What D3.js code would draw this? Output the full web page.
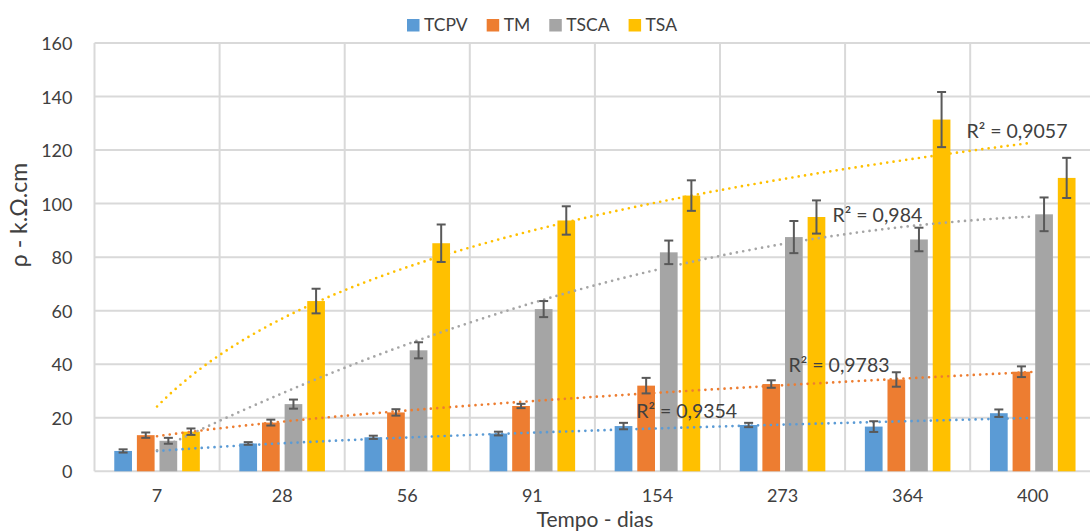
<!DOCTYPE html>
<html>
<head>
<meta charset="utf-8">
<script src="https://cdn.jsdelivr.net/npm/d3@7/dist/d3.min.js"></script>
<style>
  html, body { margin: 0; padding: 0; background: #fff; }
  svg { display: block; font-family: Lato, "Open Sans", sans-serif; }
</style>
</head>
<body>
<svg id="chart" width="1090" height="532"></svg>
<script>
// ---------------- data ----------------
const categories = ["7", "28", "56", "91", "154", "273", "364", "400"];
const seriesNames = ["TCPV", "TM", "TSCA", "TSA"];
const TCPV = [7.6, 10.4, 12.7, 14.1, 16.9, 17.3, 16.7, 21.7];
const TM   = [13.5, 18.2, 22.0, 24.4, 32.0, 32.6, 34.3, 37.2];
const TSCA = [11.4, 25.1, 45.2, 60.6, 81.8, 87.5, 86.6, 96.0];
const TSA  = [14.8, 63.6, 85.2, 93.7, 103.0, 95.0, 131.4, 109.6];
const TCPV_err = [0.6, 0.5, 0.6, 0.7, 1.2, 0.8, 2.0, 1.4];
const TM_err   = [1.0, 1.1, 1.2, 0.8, 2.9, 1.4, 2.7, 2.0];
const TSCA_err = [1.1, 1.7, 3.0, 3.0, 4.4, 6.0, 4.4, 6.3];
const TSA_err  = [1.2, 4.6, 7.0, 5.3, 5.7, 6.2, 10.3, 7.5];
const trendTypes = ["power", "power", "poly2", "log"];
const r2Labels = ["R² = 0,9354", "R² = 0,9783", "R² = 0,984", "R² = 0,9057"];
const yTicks = [0, 20, 40, 60, 80, 100, 120, 140, 160];
const xTitle = "Tempo - dias";
const yTitle = "ρ - k.Ω.cm";

// ---------------- style / layout ----------------
const colors = ["#5B9BD5", "#ED7D31", "#A5A5A5", "#FFC000"];
const gridColor = "#D9D9D9";
const textColor = "#404040";
const errColor = "#595959";
const plot = { left: 94.5, top: 43, bottom: 471.3, step: 125.1 };
// label anchor: category, fraction of band, value (baseline)
const labelPos = [
  { cat: "154", f: 0.33, v: 19.9 },
  { cat: "273", f: 0.548, v: 37.1 },
  { cat: "273", f: 0.90, v: 93.2 },
  { cat: "364", f: 0.97, v: 124.4 }
];

const values = [TCPV, TM, TSCA, TSA];
const errs = [TCPV_err, TM_err, TSCA_err, TSA_err];

const svg = d3.select("#chart");

const x = d3.scaleBand()
  .domain(categories)
  .range([plot.left, plot.left + plot.step * categories.length])
  .padding(0);
const xi = d3.scaleBand()
  .domain(seriesNames)
  .range([0, x.bandwidth()])
  .paddingInner(0.217)
  .paddingOuter(0.874);
const y = d3.scaleLinear().domain([0, 160]).range([plot.bottom, plot.top]);

// ---------------- grid ----------------
const grid = svg.append("g");
grid.selectAll("line.h").data(yTicks).join("line")
  .attr("x1", plot.left).attr("x2", x.range()[1])
  .attr("y1", d => y(d)).attr("y2", d => y(d))
  .attr("stroke", gridColor).attr("stroke-width", 2);
const vEdges = categories.map(c => x(c)).concat([x.range()[1]]);
grid.selectAll("line.v").data(vEdges).join("line")
  .attr("x1", d => d).attr("x2", d => d)
  .attr("y1", plot.top).attr("y2", plot.bottom)
  .attr("stroke", gridColor).attr("stroke-width", 2);

// ---------------- y axis labels ----------------
const yAxis = d3.axisLeft(y).tickValues(yTicks).tickSize(0).tickPadding(0);
const yg = svg.append("g").attr("transform", `translate(${72.5},0)`).call(yAxis);
yg.select(".domain").remove();
yg.selectAll("text")
  .attr("font-family", "Lato, sans-serif")
  .attr("font-size", 18).attr("fill", textColor).attr("dy", "0.36em");

// ---------------- x axis labels ----------------
const xAxis = d3.axisBottom(x).tickSize(0).tickPadding(0);
const xg = svg.append("g").attr("transform", `translate(0,${502})`).call(xAxis);
xg.select(".domain").remove();
xg.selectAll("text")
  .attr("font-family", "Lato, sans-serif")
  .attr("font-size", 18).attr("fill", textColor).attr("dy", "0");

// ---------------- bars ----------------
seriesNames.forEach((s, si) => {
  const g = svg.append("g");
  g.selectAll("rect").data(values[si]).join("rect")
    .attr("x", (d, i) => x(categories[i]) + xi(s))
    .attr("width", xi.bandwidth())
    .attr("y", d => y(d))
    .attr("height", d => y(0) - y(d))
    .attr("fill", colors[si]);
});

// ---------------- trendlines ----------------
const xc = d3.scaleLinear().domain([1, categories.length])
  .range([x(categories[0]) + x.bandwidth() / 2, x(categories[categories.length - 1]) + x.bandwidth() / 2]);

function fitLinear(X, Y) {
  const n = X.length, mx = d3.mean(X), my = d3.mean(Y);
  let sxy = 0, sxx = 0;
  for (let i = 0; i < n; i++) { sxy += (X[i] - mx) * (Y[i] - my); sxx += (X[i] - mx) ** 2; }
  const a = sxy / sxx; return { a, b: my - a * mx };
}
function solve3(M, v) {
  const A = M.map((r, i) => r.concat([v[i]]));
  for (let c = 0; c < 3; c++) {
    let p = c; for (let r = c + 1; r < 3; r++) if (Math.abs(A[r][c]) > Math.abs(A[p][c])) p = r;
    [A[c], A[p]] = [A[p], A[c]];
    for (let r = 0; r < 3; r++) if (r !== c) {
      const f = A[r][c] / A[c][c];
      for (let k = c; k < 4; k++) A[r][k] -= f * A[c][k];
    }
  }
  return A.map((r, i) => r[3] / r[i]);
}
function makeFit(type, vals) {
  const X = vals.map((d, i) => i + 1);
  if (type === "log") {
    const f = fitLinear(X.map(Math.log), vals);
    return t => f.a * Math.log(t) + f.b;
  }
  if (type === "power") {
    const f = fitLinear(X.map(Math.log), vals.map(Math.log));
    return t => Math.exp(f.b) * Math.pow(t, f.a);
  }
  if (type === "poly2") {
    const S = k => d3.sum(X, v => v ** k);
    const T = k => d3.sum(X, (v, i) => v ** k * vals[i]);
    const c = solve3([[S(0), S(1), S(2)], [S(1), S(2), S(3)], [S(2), S(3), S(4)]], [T(0), T(1), T(2)]);
    return t => c[0] + c[1] * t + c[2] * t * t;
  }
  const f = fitLinear(X, vals);
  return t => f.a * t + f.b;
}
const tSamples = d3.range(1, categories.length + 0.0001, 0.05);
const line = d3.line().x(d => xc(d[0])).y(d => y(d[1]));
seriesNames.forEach((s, si) => {
  const f = makeFit(trendTypes[si], values[si]);
  svg.append("path")
    .datum(tSamples.map(t => [t, f(t)]))
    .attr("d", line)
    .attr("fill", "none")
    .attr("stroke", colors[si])
    .attr("stroke-width", 2.7)
    .attr("stroke-linecap", "round")
    .attr("stroke-dasharray", "0 6.4");
});

// ---------------- error bars ----------------
seriesNames.forEach((s, si) => {
  const g = svg.append("g").attr("stroke", errColor).attr("stroke-width", 2);
  values[si].forEach((v, i) => {
    const cx = x(categories[i]) + xi(s) + xi.bandwidth() / 2;
    const e = errs[si][i];
    g.append("line").attr("x1", cx).attr("x2", cx).attr("y1", y(v + e)).attr("y2", y(v - e));
    g.append("line").attr("x1", cx - 4.5).attr("x2", cx + 4.5).attr("y1", y(v + e)).attr("y2", y(v + e));
    g.append("line").attr("x1", cx - 4.5).attr("x2", cx + 4.5).attr("y1", y(v - e)).attr("y2", y(v - e));
  });
});

// ---------------- R² labels ----------------
labelPos.forEach((p, i) => {
  svg.append("text")
    .attr("x", x(p.cat) + p.f * x.bandwidth())
    .attr("y", y(p.v))
    .attr("font-size", 19.5)
    .attr("fill", textColor)
    .text(r2Labels[i]);
});

// ---------------- titles ----------------
svg.append("text")
  .attr("x", 595).attr("y", 526.5)
  .attr("text-anchor", "middle")
  .attr("font-size", 21).attr("fill", textColor)
  .text(xTitle);
svg.append("text")
  .attr("transform", `translate(26.5,215) rotate(-90)`)
  .attr("text-anchor", "middle")
  .attr("font-size", 23).attr("fill", textColor)
  .text(yTitle);

// ---------------- legend ----------------
const leg = svg.append("g");
let cursor = 0;
seriesNames.forEach((s, si) => {
  const it = leg.append("g");
  it.append("rect").attr("x", 0).attr("y", 19).attr("width", 12.5).attr("height", 12.5).attr("fill", colors[si]);
  const t = it.append("text").attr("x", 17).attr("y", 31).attr("font-size", 17.5).attr("fill", textColor).text(s);
  const w = t.node().getComputedTextLength();
  it.attr("transform", `translate(${cursor},0)`);
  cursor += 17 + w + 19;
});
const total = cursor - 19;
leg.attr("transform", `translate(${542 - total / 2},0)`);
</script>
</body>
</html>
